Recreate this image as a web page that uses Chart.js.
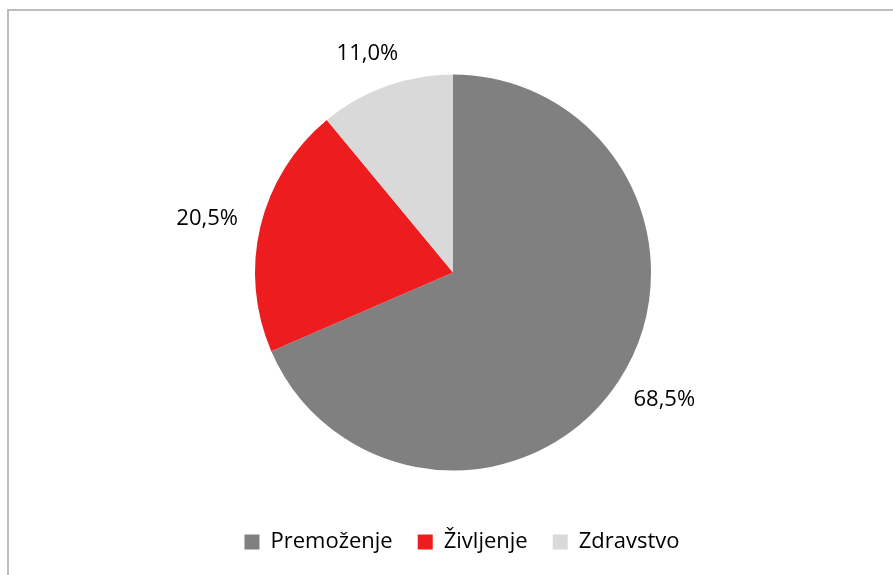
<!DOCTYPE html>
<html>
<head>
<meta charset="utf-8">
<script src="https://cdn.jsdelivr.net/npm/chart.js@4"></script>
<style>
    html, body { margin: 0; padding: 0; background: #fff; overflow: hidden; }
    .frame {
        position: absolute; left: 7px; top: 9px;
        width: 1200px; height: 1200px;
        border-left: 2px solid #bdbdbd; border-top: 2px solid #bdbdbd;
    }
    .wrap { position: absolute; left: 0; top: 0; width: 893px; height: 575px; }
</style>
</head>
<body>
<div class="frame"></div>
<div class="wrap"><canvas id="pie"></canvas></div>
<script>
// ── Data ──
const categories = ['Premoženje', 'Življenje', 'Zdravstvo'];
const shares = [68.5, 20.5, 11.0];
const colors = ['#808080', '#ED1C1F', '#D9D9D9'];

const FONT = "'Open Sans', 'Noto Sans', sans-serif";

// Percentage labels outside each slice: the label box sits a fixed gap
// beyond the arc, along the slice's mid angle (like Excel "outside end")
const outsideLabels = {
    id: 'outsideLabels',
    afterDatasetsDraw(chart) {
        const { ctx } = chart;
        const meta = chart.getDatasetMeta(0);
        const gap = 24;
        const h = 20;
        ctx.save();
        ctx.font = `22px ${FONT}`;
        ctx.fillStyle = '#000';
        ctx.textAlign = 'center';
        ctx.textBaseline = 'middle';
        meta.data.forEach((arc, i) => {
            const { x, y, startAngle, endAngle, outerRadius } = arc.getProps(
                ['x', 'y', 'startAngle', 'endAngle', 'outerRadius'], true);
            const mid = (startAngle + endAngle) / 2;
            const dx = Math.cos(mid), dy = Math.sin(mid);
            const text = shares[i].toFixed(1).replace('.', ',') + '%';
            const w = ctx.measureText(text).width;
            const r = outerRadius + gap;
            ctx.fillText(text, x + dx * r + dx * w / 2, y + dy * r + dy * h / 2);
        });
        ctx.restore();
    }
};

// small horizontal nudge of the legend row (it sits a bit right of the pie)
const legendNudge = {
    id: 'legendNudge',
    afterLayout(chart) {
        chart.legend.left += 9;
        chart.legend.right += 9;
    }
};

new Chart(document.getElementById('pie'), {
    type: 'pie',
    data: {
        labels: categories,
        datasets: [{
            data: shares,
            backgroundColor: colors,
            borderWidth: 0,
            radius: 198,
        }]
    },
    options: {
        responsive: true,
        maintainAspectRatio: false,
        animation: false,
        layout: { padding: { top: 39, bottom: 12, left: 13, right: 0 } },
        plugins: {
            tooltip: { enabled: false },
            legend: {
                position: 'bottom',
                labels: {
                    color: '#000',
                    font: { size: 22, family: FONT },
                    boxWidth: 15,
                    boxHeight: 15,
                    padding: 25,
                },
            },
        },
    },
    plugins: [outsideLabels, legendNudge],
});
</script>
</body>
</html>
